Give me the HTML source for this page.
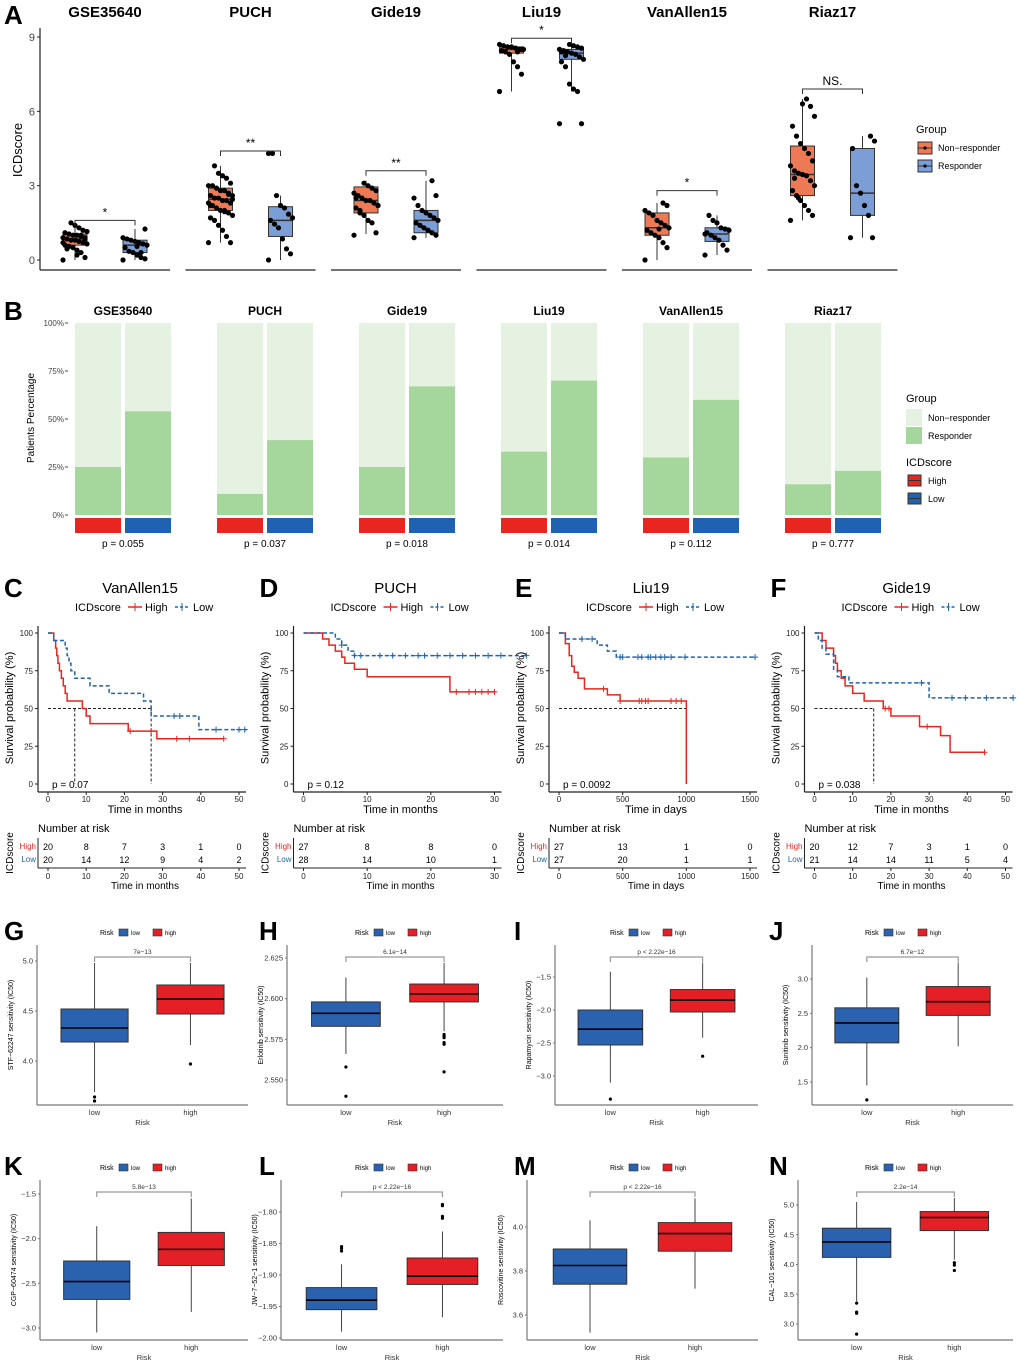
<!DOCTYPE html>
<html><head><meta charset="utf-8">
<style>
html,body{margin:0;padding:0;background:#fff;}
svg{display:block;font-family:"Liberation Sans",sans-serif;}
</style></head>
<body>
<svg id="fig" width="1020" height="1366" viewBox="0 0 1020 1366" xmlns="http://www.w3.org/2000/svg"></svg>
<script>
// ===== Panel A data =====
const aTitles=["GSE35640","PUCH","Gide19","Liu19","VanAllen15","Riaz17"];
const aNR=[[0.6,0.85,1.05,0,1.5],[2.0,2.45,2.9,0.7,3.8],[1.9,2.4,2.95,1.05,3.2],[8.35,8.5,8.6,6.8,8.7],[1.0,1.3,1.9,0,2.3],[2.6,3.45,4.6,1.6,6.5]];
const aR=[[0.3,0.6,0.8,0,1.25],[0.95,1.6,2.15,0,2.6],[1.1,1.6,2.0,0.9,3.2],[8.1,8.35,8.5,6.8,8.7],[0.75,1.05,1.3,0.2,1.8],[1.8,2.7,4.5,0.9,5.0]];
const aNRpts=[[0,0.1,0.3,0.4,0.5,0.55,0.6,0.65,0.7,0.75,0.8,0.8,0.85,0.9,0.9,0.95,1.0,1.0,1.05,1.1,1.15,1.2,1.3,1.4,1.5,0.45,0.7,0.85,1.0,0.2],
[0.7,0.7,0.95,1.2,1.4,1.6,1.7,1.8,1.9,2.0,2.0,2.1,2.2,2.3,2.3,2.4,2.4,2.5,2.5,2.6,2.6,2.7,2.8,2.8,2.9,3.0,3.0,3.1,3.3,3.4,3.5,3.8,2.2,2.45,2.65,1.95],
[1.0,1.1,1.5,1.6,1.8,2.0,2.1,2.2,2.3,2.4,2.4,2.5,2.6,2.7,2.8,2.9,3.0,3.1,1.9,2.5,2.2],
[6.8,7.5,7.8,8.0,8.3,8.4,8.45,8.5,8.5,8.55,8.6,8.6,8.65,8.7,8.5,8.4],
[0,0.5,0.7,0.9,1.0,1.1,1.2,1.3,1.4,1.5,1.6,1.8,1.9,2.0,2.2,2.3,1.25],
[1.6,1.8,2.0,2.2,2.4,2.6,2.8,3.0,3.2,3.4,3.45,3.5,3.6,3.8,4.0,4.3,4.5,4.7,5.0,5.4,5.8,6.2,6.5,6.3,2.5,3.3]];
const aRpts=[[0,0.05,0.1,0.2,0.3,0.35,0.5,0.6,0.65,0.7,0.75,0.8,0.85,0.9,1.25,0.3,0.55],
[0,0.25,0.45,0.85,1.3,1.45,1.6,1.7,1.85,2.1,2.2,2.6,4.3,4.3],
[0.9,1.0,1.1,1.2,1.3,1.4,1.5,1.6,1.7,1.8,1.9,2.0,2.2,2.5,2.6,3.2],
[5.5,5.5,6.8,6.9,7.1,7.8,8.0,8.1,8.2,8.3,8.35,8.4,8.45,8.5,8.55,8.6,8.65,8.7,8.25,8.4],
[0.2,0.4,0.6,0.8,0.9,1.0,1.1,1.2,1.25,1.3,1.5,1.6,1.8,1.05],
[0.9,0.9,1.8,2.2,2.7,3.0,4.5,4.8,5.0]];
const aSig=[1.6,4.4,3.6,8.95,2.8,6.9];
const aSigLab=["*","**","**","*","*","NS."];
const aTicks=[0,3,6,9];
// ===== Panel B data =====
const bTitles=["GSE35640","PUCH","Gide19","Liu19","VanAllen15","Riaz17"];
const bHighResp=[25,11,25,33,30,16];
const bLowResp=[54,39,67,70,60,23];
const bP=["p = 0.055","p = 0.037","p = 0.018","p = 0.014","p = 0.112","p = 0.777"];
const bTicks=[0,25,50,75,100];
// ===== KM data =====
const kmLetters=["C","D","E","F"];
const kmTitles=["VanAllen15","PUCH","Liu19","Gide19"];
const kmXticks=[[0,10,20,30,40,50],[0,10,20,30],[0,500,1000,1500],[0,10,20,30,40,50]];
const kmXlab=["Time in months","Time in months","Time in days","Time in months"];
const kmEnd=[52,35,1540,52];
const kmHighT=[[0,1.5,2,2.3,2.6,3,3.5,4,4.5,5,9,10,11,21,28.5],[0,3,4,5,6,6.5,8,10,23],[0,50,80,100,120,150,200,380,480,1000],[0,2,3,5,5.5,6,7,8,10,13,18,20,27.5,33,35.5]];
const kmHighS=[[100,95,90,85,80,75,70,65,60,55,50,45,40,35,30,22.5],[100,96,92,88,84,80,76,71,61],[100,93,85,78,74,70,63,59,55,0],[100,95,90,85,80,75,70,65,60,55,50,45,38,32,21,11]];
const kmHighEnd=[46,30,1000,44.5];
const kmHighC=[[21.5,27,33.7,37,46],[24,26,27,28,29,30],[350,480,630,650,680,700,880,920,960],[18.5,19.5,29.5,44.5]];
const kmLowT=[[0,1.5,4.5,5,5.5,6,7,11,16,25,27,39.5],[0,5,6,7,8],[0,50,300,380,450],[0,1,2,3,5,6,9,30]];
const kmLowS=[[100,95,90,85,80,75,70,65,60,55,45,36],[100,96,92,88,85],[100,96,92,88,84],[100,95,90,86,76,71,67,57]];
const kmLowC=[[33,34.5,44,50,51.5],[6,8,9,12,14,16,18,19,21,23,25,27,29,31,35],[180,260,480,500,620,650,700,720,760,800,830,880,990,1540],[28,36,39.5,45,52]];
const kmMedian=[[7,27],[],[1000],[15.5]];
const kmP=["p = 0.07","p = 0.12","p = 0.0092","p = 0.038"];
const kmRiskHigh=[[20,8,7,3,1,0],[27,8,8,0],[27,13,1,0],[20,12,7,3,1,0]];
const kmRiskLow=[[20,14,12,9,4,2],[28,14,10,1],[27,20,1,1],[21,14,14,11,5,4]];
// ===== Drug boxplot data (q1, median, q3, whiskerLow, whiskerHigh) =====
const dLetters=["G","H","I","J","K","L","M","N"];
const dYlab=["STF−62247 sensitivity (IC50)","Erlotinib sensitivity (IC50)","Rapamycin sensitivity (IC50)","Sunitinib sensitivity (IC50)","CGP−60474 sensitivity (IC50)","JW−7−52−1 sensitivity (IC50)","Roscovitine sensitivity (IC50)","CAL−101 sensitivity (IC50)"];
const dP=["7e−13","6.1e−14","p < 2.22e−16","6.7e−12","5.8e−13","p < 2.22e−16","p < 2.22e−16","2.2e−14"];
const dTicks=[[4.0,4.5,5.0],[2.550,2.575,2.600,2.625],[-3.0,-2.5,-2.0,-1.5],[1.5,2.0,2.5,3.0],[-3.0,-2.5,-2.0,-1.5],[-2.00,-1.95,-1.90,-1.85,-1.80],[3.6,3.8,4.0],[3.0,3.5,4.0,4.5,5.0]];
const dTickLab=[["4.0","4.5","5.0"],["2.550","2.575","2.600","2.625"],["−3.0","−2.5","−2.0","−1.5"],["1.5","2.0","2.5","3.0"],["−3.0","−2.5","−2.0","−1.5"],["−2.00","−1.95","−1.90","−1.85","−1.80"],["3.6","3.8","4.0"],["3.0","3.5","4.0","4.5","5.0"]];
const dLow=[[4.19,4.33,4.52,3.69,4.98],[2.583,2.591,2.598,2.566,2.613],[-2.53,-2.29,-2.0,-3.1,-1.42],[2.07,2.36,2.58,1.45,3.02],[-2.68,-2.48,-2.25,-3.05,-1.86],[-1.955,-1.94,-1.92,-1.99,-1.883],[3.74,3.825,3.90,3.52,4.03],[4.12,4.38,4.61,3.38,5.05]];
const dHigh=[[4.47,4.62,4.76,4.16,4.98],[2.598,2.603,2.609,2.580,2.622],[-2.03,-1.85,-1.69,-2.42,-1.28],[2.47,2.67,2.89,2.02,3.24],[-2.3,-2.12,-1.93,-2.82,-1.55],[-1.915,-1.902,-1.873,-1.967,-1.831],[3.89,3.97,4.02,3.72,4.13],[4.57,4.79,4.89,4.08,5.12]];
const dLowOut=[[3.64,3.60],[2.558,2.540],[-3.35],[1.24],[],[-1.862,-1.858,-1.855],[],[3.35,3.2,3.18,2.83]];
const dHighOut=[[3.97],[2.578,2.577,2.576,2.573,2.572,2.555],[-2.7],[],[],[-1.81,-1.807,-1.79,-1.788],[],[4.03,3.99,3.9]];
const dCal=[[1061,961],[1080,958],[1076,977],[1082,979],[1328,1194],[1338,1212],[1315,1227],[1324,1205]];
const dAxisX=[37,287,555,812,40,281,527,798];

const NS="http://www.w3.org/2000/svg";
const svg=document.getElementById('fig');
function mk(tag,at,par){const e=document.createElementNS(NS,tag);for(const k in at)e.setAttribute(k,at[k]);(par||svg).appendChild(e);return e;}
function tx(str,x,y,at,par){const e=mk('text',Object.assign({x:x,y:y,'font-size':12,fill:'#000'},at||{}),par);e.textContent=str;return e;}
function lin(d0,d1,r0,r1){return v=>r0+(v-d0)*(r1-r0)/(d1-d0);}

// ================= PANEL A =================
const gA=mk('g',{});


const lA=tx('A',4,24,{'font-size':26,'font-weight':'bold'},gA);


const yA=lin(0,9,260,37);
mk('line',{x1:40,y1:28,x2:40,y2:270,stroke:'#222','stroke-width':1.2},gA);
aTicks.forEach(t=>{
  const tl=tx(String(t),35,yA(t)+4,{'font-size':11,fill:'#444','text-anchor':'end'},gA);
  
  
  mk('line',{x1:37,y1:yA(t),x2:40,y2:yA(t),stroke:'#222'},gA);
});
const aYt=tx('ICDscore',22,150,{'font-size':13,'text-anchor':'middle',transform:'rotate(-90 22 150)'},gA);


function boxA(par,cx,st,fill,pts){
  const w=24;
  mk('line',{x1:cx,y1:yA(st[3]),x2:cx,y2:yA(st[4]),stroke:'#333','stroke-width':1},par);
  const b=mk('rect',{x:cx-w/2,y:yA(st[2]),width:w,height:yA(st[0])-yA(st[2]),fill:fill,stroke:'#333','stroke-width':1},par);
  
  
  mk('line',{x1:cx-w/2,y1:yA(st[1]),x2:cx+w/2,y2:yA(st[1]),stroke:'#333','stroke-width':1.5},par);
  pts.forEach((v,i)=>{
    const jx=((i*37)%13-6)*2.0;
    const c=mk('circle',{cx:cx+jx,cy:yA(v),r:2.6,fill:'#000'},par);
    
    
  });
}
aTitles.forEach((t,i)=>{
  const off=i*145.5;
  const g=mk('g',{},gA);
  
  
  const tt=tx(t,105+off,17,{'font-size':15,'font-weight':'bold','text-anchor':'middle'},g);
  
  
  mk('line',{x1:40+off,y1:270,x2:170+off,y2:270,stroke:'#222','stroke-width':1.2},g);
  const c1=75+off,c2=135+off;
  boxA(g,c1,aNR[i],'#ee7a55',aNRpts[i]);
  boxA(g,c2,aR[i],'#7b9ed6',aRpts[i]);
  const sy=yA(aSig[i]);
  mk('path',{d:`M${c1} ${sy+5}V${sy}H${c2}V${sy+5}`,fill:'none',stroke:'#333'},g);
  const sl=tx(aSigLab[i],(c1+c2)/2,sy-4,{'font-size':12,'text-anchor':'middle'},g);
  
  
});
const legA=mk('g',{},gA);


tx('Group',916,133,{'font-size':11},legA);
[['Non−responder','#ee7a55',148],['Responder','#7b9ed6',166]].forEach(e=>{
  mk('rect',{x:918,y:e[2]-6,width:14,height:12,fill:e[1],stroke:'#333'},legA);
  mk('line',{x1:918,y1:e[2],x2:932,y2:e[2],stroke:'#333'},legA);
  mk('circle',{cx:925,cy:e[2],r:1.6,fill:'#000'},legA);
  tx(e[0],938,e[2]+3,{'font-size':9},legA);
});

// ================= PANEL B =================
const gB=mk('g',{});


const lB=tx('B',4,320,{'font-size':26,'font-weight':'bold'},gB);


const yB=lin(0,100,515,323);
const bYt=tx('Patients Percentage',34,418,{'font-size':10,'text-anchor':'middle',transform:'rotate(-90 34 418)'},gB);


bTicks.forEach(t=>{
  const tl=tx(t+'%',64,yB(t)+3,{'font-size':8,fill:'#444','text-anchor':'end'},gB);
  
  
  mk('line',{x1:65,y1:yB(t),x2:68,y2:yB(t),stroke:'#444'},gB);
});
bTitles.forEach((t,i)=>{
  const c=123+i*142;
  const g=mk('g',{},gB);
  
  
  const tt=tx(t,c,315,{'font-size':12,'font-weight':'bold','text-anchor':'middle'},g);
  
  
  [[c-48,bHighResp[i],'#e8251f','high'],[c+2,bLowResp[i],'#1f63b0','low']].forEach(b=>{
    const bg=mk('rect',{x:b[0],y:yB(100),width:46,height:yB(b[1])-yB(100),fill:'#e6f2e1'},g);
    
    
    const fg=mk('rect',{x:b[0],y:yB(b[1]),width:46,height:yB(0)-yB(b[1]),fill:'#a5d69c'},g);
    
    
    mk('rect',{x:b[0],y:518,width:46,height:15,fill:b[2]},g);
  });
  const p=tx(bP[i],c,547,{'font-size':10,'text-anchor':'middle'},g);
  
  
});
const legB=mk('g',{},gB);


tx('Group',906,402,{'font-size':11},legB);
mk('rect',{x:906,y:409,width:16,height:17,fill:'#e6f2e1'},legB);
mk('rect',{x:906,y:427,width:16,height:17,fill:'#a5d69c'},legB);
tx('Non−responder',928,421,{'font-size':9},legB);
tx('Responder',928,439,{'font-size':9},legB);
tx('ICDscore',906,466,{'font-size':11},legB);
mk('rect',{x:908,y:475,width:13,height:11,fill:'#e8251f',stroke:'#333'},legB);
mk('rect',{x:908,y:493,width:13,height:11,fill:'#1f63b0',stroke:'#333'},legB);
mk('line',{x1:908,y1:480.5,x2:921,y2:480.5,stroke:'#333'},legB);
mk('line',{x1:908,y1:498.5,x2:921,y2:498.5,stroke:'#333'},legB);
tx('High',928,484,{'font-size':9},legB);
tx('Low',928,502,{'font-size':9},legB);

// ================= KM PANELS =================
function sAt(T,S,t){let s=S[0];for(let i=0;i<T.length;i++){if(T[i]<=t)s=S[i];}return s;}
function stepPath(T,S,end,x,y){let d=`M${x(T[0])} ${y(S[0])}`;for(let i=1;i<T.length;i++){d+=`H${x(T[i])}V${y(S[i])}`;}d+=`H${x(end)}`;return d;}
kmTitles.forEach((t,k)=>{
  const off=k*255.5;
  const g=mk('g',{});
  
  
  const L=tx(kmLetters[k],4+off,597,{'font-size':26,'font-weight':'bold'},g);
  
  
  const x0=48+off,x1=239+off;
  const ticks=kmXticks[k];
  const x=lin(0,ticks[ticks.length-1],x0,x1);
  const y=lin(0,100,784,633);
  const right=246+off;
  const tt=tx(t,140+off,593,{'font-size':15,'text-anchor':'middle'},g);
  
  
  const lg=mk('g',{},g);
  
  
  tx('ICDscore',75+off,611,{'font-size':11},lg);
  mk('line',{x1:128+off,y1:607,x2:142+off,y2:607,stroke:'#e8251f','stroke-width':1.5},lg);
  mk('path',{d:`M135 603V611`,transform:`translate(${off},0)`,stroke:'#e8251f'},lg);
  tx('High',145+off,611,{'font-size':11},lg);
  mk('line',{x1:175+off,y1:607,x2:189+off,y2:607,stroke:'#1f63b0','stroke-width':1.5,'stroke-dasharray':'3,2'},lg);
  mk('path',{d:`M182 603V611`,transform:`translate(${off},0)`,stroke:'#1f63b0'},lg);
  tx('Low',193+off,611,{'font-size':11},lg);
  mk('line',{x1:38+off,y1:626,x2:38+off,y2:792,stroke:'#222','stroke-width':1.2},g);
  mk('line',{x1:38+off,y1:792,x2:right,y2:792,stroke:'#222','stroke-width':1.2},g);
  [0,25,50,75,100].forEach(v=>{
    const tl=tx(String(v),33+off,y(v)+3,{'font-size':8,fill:'#222','text-anchor':'end'},g);
    
    
    mk('line',{x1:35+off,y1:y(v),x2:38+off,y2:y(v),stroke:'#222'},g);
  });
  ticks.forEach(v=>{
    const tl=tx(String(v),x(v),802,{'font-size':8,fill:'#222','text-anchor':'middle'},g);
    
    
    mk('line',{x1:x(v),y1:792,x2:x(v),y2:795,stroke:'#222'},g);
    const rl=tx(String(v),x(v),879,{'font-size':8,fill:'#222','text-anchor':'middle'},g);
    
    
    mk('line',{x1:x(v),y1:868,x2:x(v),y2:871,stroke:'#222'},g);
  });
  const yt=tx('Survival probability (%)',13+off,708,{'font-size':11,'text-anchor':'middle',transform:`rotate(-90 ${13+off} 708)`},g);
  
  
  const xt=tx(kmXlab[k],145+off,813,{'font-size':11,'text-anchor':'middle'},g);
  
  
  kmMedian[k].forEach(m=>{
    mk('line',{x1:x(m),y1:y(50),x2:x(m),y2:y(0),stroke:'#222','stroke-dasharray':'3,2'},g);
  });
  if(kmMedian[k].length){
    const mx=Math.max(...kmMedian[k]);
    mk('line',{x1:x(0),y1:y(50),x2:x(mx),y2:y(50),stroke:'#222','stroke-dasharray':'3,2'},g);
  }
  const hc=mk('path',{d:stepPath(kmHighT[k],kmHighS[k],kmHighEnd[k],x,y),fill:'none',stroke:'#e8251f','stroke-width':1.5},g);
  
  
  const lc=mk('path',{d:stepPath(kmLowT[k],kmLowS[k],kmEnd[k],x,y),fill:'none',stroke:'#1f63b0','stroke-width':1.5,'stroke-dasharray':'4,2.5'},g);
  
  
  kmHighC[k].forEach(c=>{const cy=y(sAt(kmHighT[k],kmHighS[k],c));
    const m=mk('path',{d:`M${x(c)-3} ${cy}H${x(c)+3}M${x(c)} ${cy-3}V${cy+3}`,stroke:'#e8251f'},g);
    
    });
  kmLowC[k].forEach(c=>{const cy=y(sAt(kmLowT[k],kmLowS[k],c));
    const m=mk('path',{d:`M${x(c)-3} ${cy}H${x(c)+3}M${x(c)} ${cy-3}V${cy+3}`,stroke:'#1f63b0'},g);
    
    });
  const p=tx(kmP[k],52+off,788,{'font-size':10},g);
  
  
  const rt=mk('g',{},g);
  
  
  tx('Number at risk',38+off,832,{'font-size':11},rt);
  mk('line',{x1:38+off,y1:838,x2:38+off,y2:868,stroke:'#222'},rt);
  mk('line',{x1:38+off,y1:868,x2:right,y2:868,stroke:'#222'},rt);
  tx('High',36+off,849,{'font-size':8,fill:'#e8251f','text-anchor':'end'},rt);
  tx('Low',36+off,862,{'font-size':8,fill:'#1f63b0','text-anchor':'end'},rt);
  tx('ICDscore',13+off,853,{'font-size':10,'text-anchor':'middle',transform:`rotate(-90 ${13+off} 853)`},rt);
  ticks.forEach((v,i)=>{
    const a=tx(String(kmRiskHigh[k][i]),x(v),850,{'font-size':9,'text-anchor':'middle'},rt);
    
    
    const b=tx(String(kmRiskLow[k][i]),x(v),863,{'font-size':9,'text-anchor':'middle'},rt);
    
    
  });
  tx(kmXlab[k],145+off,889,{'font-size':10,'text-anchor':'middle'},rt);
});

// ================= DRUG BOXPLOTS =================
dLetters.forEach((L,k)=>{
  const col=k%4,row=Math.floor(k/4);
  const off=col*255;
  const dy=row*235;
  const g=mk('g',{});
  
  
  const ll=tx(L,4+off,940+dy,{'font-size':26,'font-weight':'bold'},g);
  
  
  const tk=dTicks[k];
  const y=lin(tk[0],tk[tk.length-1],dCal[k][0],dCal[k][1]);
  const ax=dAxisX[k], right=off+248, bottom=1105+dy;
  const u=(right-ax)/2.2;
  const cL=ax+0.6*u, cH=ax+1.6*u, bw=0.7*u;
  const lg=mk('g',{},g);
  
  
  const lx=off+100;
  tx('Risk',lx,935+dy,{'font-size':7},lg);
  mk('rect',{x:lx+19,y:929+dy,width:9,height:7,fill:'#2b62b0',stroke:'#333','stroke-width':0.6},lg);
  tx('low',lx+31,935+dy,{'font-size':6},lg);
  mk('rect',{x:lx+53,y:929+dy,width:9,height:7,fill:'#e41f26',stroke:'#333','stroke-width':0.6},lg);
  tx('high',lx+65,935+dy,{'font-size':6},lg);
  mk('line',{x1:ax,y1:945+dy,x2:ax,y2:bottom,stroke:'#777','stroke-width':1.2},g);
  mk('line',{x1:ax,y1:bottom,x2:right,y2:bottom,stroke:'#777','stroke-width':1.2},g);
  tk.forEach((v,i)=>{
    const t=tx(dTickLab[k][i],ax-4,y(v)+2.5,{'font-size':7.5,fill:'#333','text-anchor':'end'},g);
    
    
    mk('line',{x1:ax-2,y1:y(v),x2:ax,y2:y(v),stroke:'#777'},g);
  });
  const yt=tx(dYlab[k],ax-24,1025+dy,{'font-size':7,'text-anchor':'middle',transform:`rotate(-90 ${ax-24} ${1025+dy})`},g);
  
  
  [[cL,'low'],[cH,'high']].forEach(c=>{
    const t=tx(c[1],c[0],1115+dy,{'font-size':7.5,fill:'#333','text-anchor':'middle'},g);
    
    
  });
  const xt=tx('Risk',(ax+right)/2,1125+dy,{'font-size':7.5,fill:'#333','text-anchor':'middle'},g);
  
  
  function box(cx,st,out,fill,nm){
    mk('line',{x1:cx,y1:y(st[3]),x2:cx,y2:y(st[4]),stroke:'#444','stroke-width':1},g);
    const b=mk('rect',{x:cx-bw/2,y:y(st[2]),width:bw,height:y(st[0])-y(st[2]),fill:fill,stroke:'#333','stroke-width':1},g);
    
    
    mk('line',{x1:cx-bw/2,y1:y(st[1]),x2:cx+bw/2,y2:y(st[1]),stroke:'#000','stroke-width':1.6},g);
    out.forEach(v=>{const o=mk('circle',{cx:cx,cy:y(v),r:1.6,fill:'#000'},g);
      
      });
  }
  box(cL,dLow[k],dLowOut[k],'#2b62b0','low');
  box(cH,dHigh[k],dHighOut[k],'#e41f26','high');
  const by=957+dy;
  mk('path',{d:`M${cL} ${by+5}V${by}H${cH}V${by+5}`,fill:'none',stroke:'#999','stroke-width':1.2},g);
  const p=tx(dP[k],(cL+cH)/2,by-3,{'font-size':6.5,fill:'#333','text-anchor':'middle'},g);
  
  
});
</script>
</body></html>
